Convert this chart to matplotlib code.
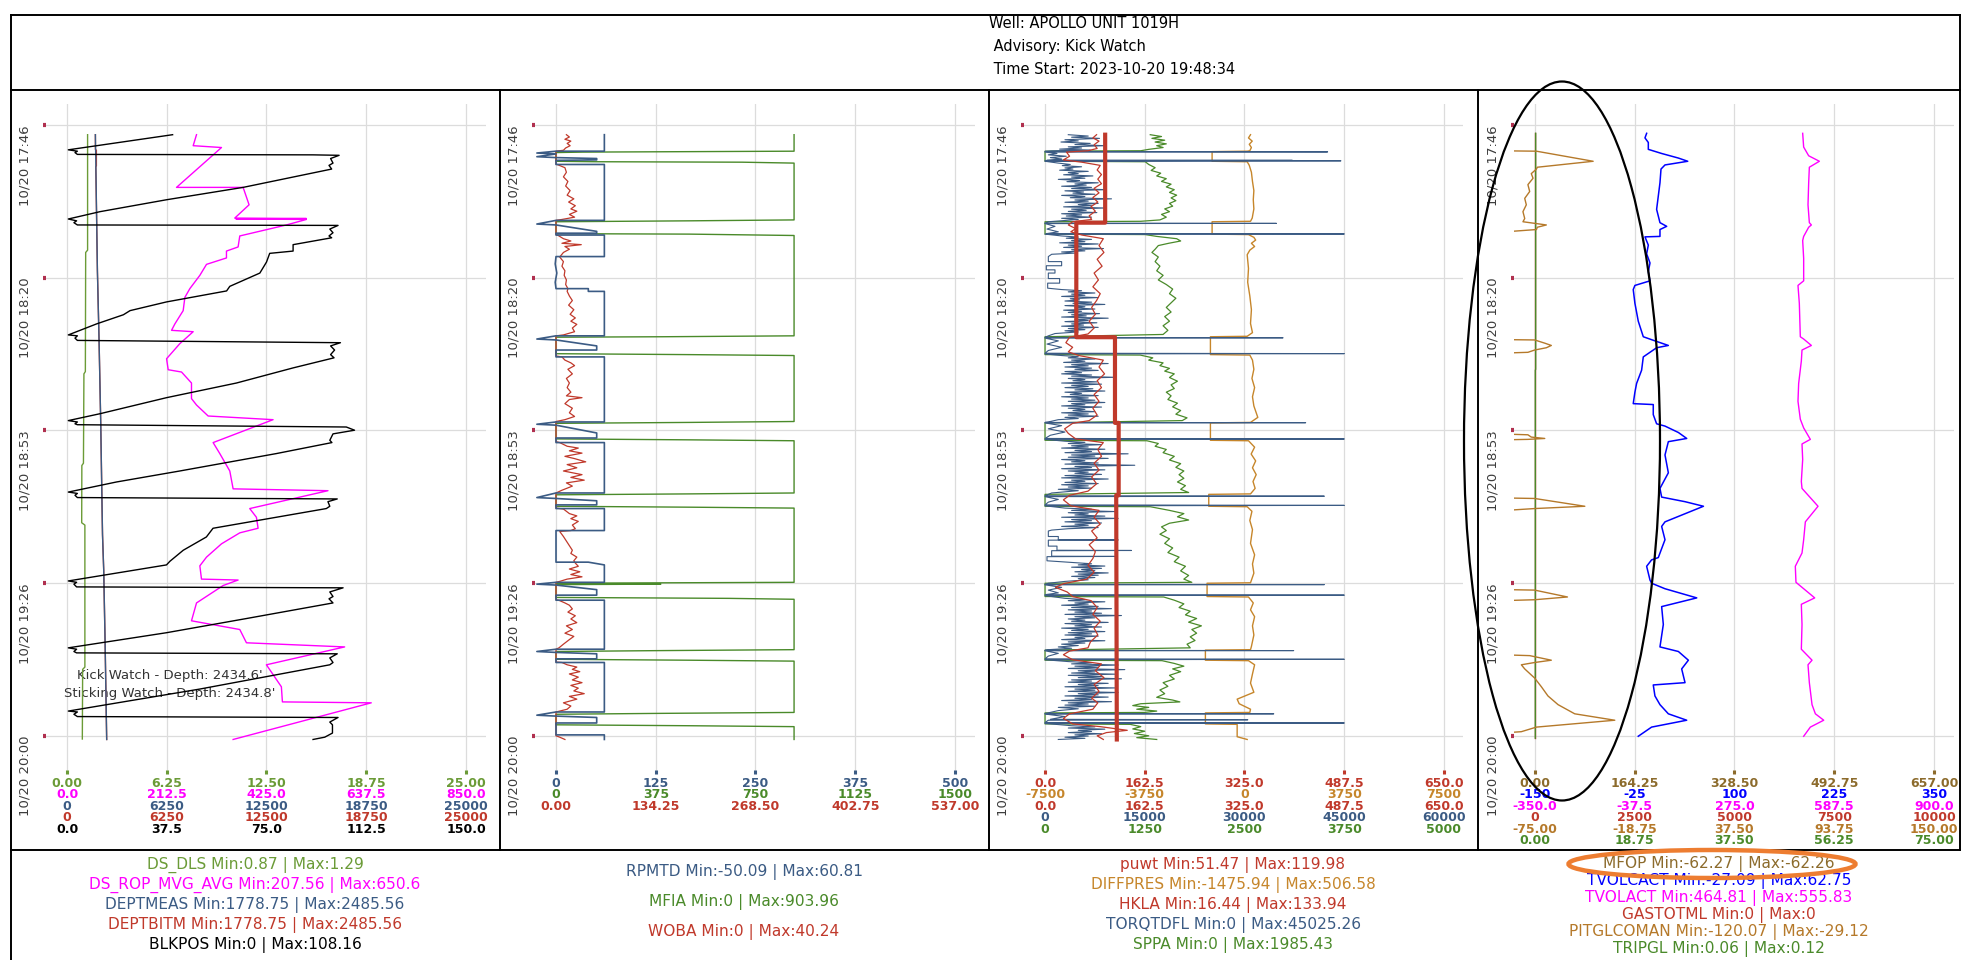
import matplotlib
matplotlib.use('Agg')
import matplotlib.pyplot as plt
import matplotlib.ticker as mticker
from matplotlib.patches import Ellipse
from matplotlib.lines import Line2D
import numpy as np

plt.rcParams['font.family'] = ['DejaVu Sans']
plt.rcParams['axes.unicode_minus'] = False

# colours
OLIVE = '#6b9b37'
MAGENTA = '#ff00ff'
SLATE = '#3b5b84'
BRICK = '#c0392b'
GREEN = '#4a8a2a'
OCHRE = '#c6862b'
BROWN = '#8c6b2c'
GOLD = '#b5792a'
BLUE = '#0000ff'

# time axis: minutes after 17:00 on 10/20
time_ticks = [46.67, 80.0, 113.33, 146.67, 180.0]
T_TOP, T_BOT = 42.1, 187.9

# ---------------- panel 1 : (value, minute) ----------------
ds_dls = [(1.29, 48.8), (1.29, 74.0), (1.17, 74.5), (1.15, 100.5), (1.06, 101.0), (1.03, 120.5),
          (0.93, 121.0), (0.92, 133.5), (1.12, 134.0), (1.12, 165.0), (0.98, 165.5), (0.96, 180.7)]

rop = [(275.9, 48.8), (268.8, 51.2), (329.1, 51.6), (233.3, 60.3), (375.2, 60.3), (387.9, 64.1),
       (357.4, 67.0), (509.9, 67.1), (360.0, 67.2), (509.9, 67.3), (467.4, 68.5), (368.1, 70.9),
       (364.5, 73.3), (339.7, 74.2), (339.7, 75.7), (297.2, 77.1), (283.0, 79.5), (261.7, 82.4),
       (251.1, 84.3), (247.5, 87.2), (229.8, 90.1), (222.7, 91.5), (268.8, 91.8), (240.4, 94.4),
       (212.1, 97.7), (215.6, 100.1), (244.0, 100.6), (265.2, 103.0), (265.2, 106.4), (275.9, 107.8),
       (300.7, 110.2), (439.0, 111.0), (311.3, 116.0), (325.5, 118.4), (346.8, 122.2), (353.9, 126.1),
       (556.0, 126.5), (389.3, 130.4), (403.5, 132.3), (407.1, 134.7), (368.1, 135.7), (329.1, 138.1),
       (297.2, 141.0), (283.0, 142.9), (286.5, 145.8), (364.5, 146.0), (332.6, 147.2), (275.9, 151.0),
       (265.2, 154.9), (368.1, 156.8), (382.3, 159.7), (591.5, 160.6), (424.8, 164.5), (456.7, 169.3),
       (458.9, 172.6), (648.2, 172.8), (353.9, 180.8)]

deptmeas = [(1779, 48.8), (1905, 78.5), (2010, 93.9), (2115, 112.1), (2180, 126.5), (2225, 136.1),
            (2300, 143.8), (2390, 160.2), (2486, 180.8)]

deptbitm = [(1779, 48.8), (1779, 52.0), (1840, 52.2), (1840, 55.6), (1805, 55.8), (1905, 78.5),
            (2010, 93.9), (2115, 112.1), (2180, 126.5), (2225, 136.1), (2300, 143.8), (2390, 160.2),
            (2486, 180.8)]

blkpos = [(39.7, 48.8), (0.5, 52.1), (3.9, 52.4), (3.0, 52.7), (3.9, 53.1), (92.5, 53.2), (102.3, 53.3),
          (99.1, 54.0), (100.0, 55.0), (98.5, 55.5), (99.5, 56.3),
          (66.2, 60.3), (37.4, 63.0), (12.4, 65.6), (0.5, 67.2),
          (3.6, 67.6), (2.6, 68.0), (3.9, 68.5), (101.9, 68.6), (98.8, 69.4), (100.0, 70.2), (98.5, 70.9), (99.5, 71.3),
          (85.0, 72.8), (85.0, 74.2), (76.2, 74.7), (75.0, 76.6), (72.5, 79.0), (61.2, 81.9), (60.0, 82.9),
          (37.4, 85.3), (23.7, 87.2), (21.2, 88.1), (11.1, 90.1), (0.5, 92.5),
          (3.9, 92.7), (3.0, 93.2), (3.9, 93.7), (102.8, 94.2), (99.1, 94.9), (100.6, 95.8), (99.1, 96.8), (100.4, 97.5),
          (85.0, 99.7), (63.7, 103.0), (37.4, 106.2), (12.4, 109.7), (0.5, 111.2),
          (3.9, 111.5), (3.0, 111.9), (3.9, 112.1), (105.0, 112.6), (108.1, 113.3), (100.0, 114.1), (98.8, 115.5), (99.6, 116.0),
          (78.7, 118.4), (42.4, 122.2), (18.6, 124.6), (0.5, 126.8),
          (3.9, 127.1), (3.0, 127.5), (3.9, 128.0), (101.6, 128.3), (98.1, 128.9), (98.8, 129.9), (97.5, 130.4),
          (54.9, 134.7), (52.4, 136.6), (43.7, 139.5), (38.7, 141.9), (37.4, 142.7), (0.5, 146.2),
          (3.6, 146.5), (2.6, 146.9), (3.6, 147.5), (103.8, 147.7), (98.8, 148.6), (100.0, 149.6), (98.5, 150.1), (100.0, 151.0),
          (67.5, 154.4), (37.4, 157.5), (0.5, 160.8),
          (3.6, 161.1), (2.6, 161.6), (3.6, 161.9), (101.6, 162.1), (98.8, 163.0), (100.0, 164.0), (98.8, 164.5),
          (49.9, 169.8), (0.5, 174.6),
          (3.9, 174.8), (2.6, 175.3), (3.9, 175.8), (101.9, 176.0), (98.8, 177.0), (99.8, 177.6), (99.8, 179.4),
          (96.9, 180.3), (92.5, 180.8)]

# ---------------- panel 2 ----------------
rpmtd = [(60.6, 48.8), (60.6, 52.4), (0, 52.4), (-24, 52.8), (0, 53.0), (-24, 53.6), (0, 53.8), (51, 54.0),
         (51, 54.3), (0, 54.4), (0, 55.3), (60.6, 55.3), (60.6, 67.5), (0, 67.5), (-24, 68.3), (0, 68.5),
         (51, 69.9), (51, 70.3), (0, 70.3), (0, 70.7), (60.6, 70.7), (60.6, 75.4), (0, 75.4), (-1, 77),
         (1, 79), (-1, 81), (0, 82.4), (40.5, 82.4), (40.5, 83.0), (60.6, 83.0), (60.6, 92.7), (0, 92.7),
         (-24, 93.4), (0, 93.6), (51, 94.9), (51, 95.8), (0, 95.8), (0, 97.3), (60.6, 97.3), (60.6, 111.5),
         (0, 111.5), (-24, 112.0), (0, 112.2), (51, 113.9), (51, 115.0), (0, 115.0), (0, 116.0), (60.6, 116.0),
         (60.6, 127.0), (0, 127.0), (-24, 128.0), (0, 128.2), (51, 128.7), (51, 129.6), (0, 129.6), (0, 130.4),
         (60.6, 130.4), (60.6, 135.2), (0, 135.2), (0, 142.1), (40.5, 142.1), (60.6, 142.7), (60.6, 146.5),
         (0, 146.5), (-24, 146.9), (0, 147.1), (51, 148.1), (51, 149.3), (0, 149.3), (0, 150.4), (60.6, 150.4),
         (60.6, 161.1), (0, 161.1), (-24, 161.6), (0, 161.8), (51, 162.1), (51, 163.2), (0, 163.2), (0, 164.0),
         (60.6, 164.0), (60.6, 174.8), (0, 174.8), (-24, 175.5), (0, 175.7), (51, 176.0), (51, 177.2),
         (0, 177.2), (0, 179.8), (60.6, 179.8), (60.6, 180.8)]

mfia = [(895, 48.8), (895, 52.4), (500, 52.5), (100, 52.6), (0, 52.7), (0, 54.6), (150, 54.7), (700, 54.8),
        (895, 55.0), (895, 67.4), (500, 67.6), (0, 67.8), (0, 70.4), (500, 70.5), (895, 70.8), (895, 92.7),
        (400, 92.9), (0, 93.0), (0, 96.6), (500, 96.8), (895, 97.0), (895, 111.4), (500, 111.6), (0, 111.8),
        (0, 115.2), (500, 115.4), (895, 115.6), (895, 127.0), (500, 127.2), (0, 127.4), (0, 129.9), (500, 130.1),
        (895, 130.3), (895, 146.5), (0, 146.7), (394, 146.9), (0, 147.0), (0, 149.8), (650, 150.0), (895, 150.2),
        (895, 161.2), (400, 161.4), (0, 161.6), (0, 163.3), (500, 163.5), (895, 163.7), (895, 174.9),
        (400, 175.1), (0, 175.3), (0, 177.6), (500, 177.8), (895, 178.0), (895, 180.8)]

woba = [(14, 48.8), (18, 49.3), (12, 49.8), (20, 50.2), (15, 50.7), (19, 51.2), (13, 51.7), (10, 52.2), (0, 52.4),
        (0, 55.2), (3, 55.4), (12, 56.0), (14, 57.0), (10, 58.0), (16, 59.0), (13, 60.0), (19, 61.0), (15, 62.0),
        (24, 62.8), (17, 63.5), (26, 64.3), (20, 65.0), (28, 65.5), (18, 66.2), (25, 66.8), (8, 67.3), (0, 67.5),
        (0, 70.6), (3, 70.8), (10, 71.5), (20, 72.0), (8, 72.5), (34, 72.8), (12, 73.2), (18, 73.8), (10, 74.5),
        (6, 75.3), (5, 75.5), (10, 76.5), (8, 77.5), (12, 78.5), (11, 79.5), (14, 80.5), (13, 81.5), (16, 82.4),
        (15, 83.0), (18, 84.0), (22, 85.0), (17, 86.0), (24, 87.0), (19, 88.0), (26, 88.8), (20, 89.5),
        (28, 90.2), (22, 91.0), (25, 91.8), (10, 92.5), (0, 92.7),
        (0, 97.1), (8, 97.3), (12, 98.0), (20, 98.6), (25, 99.2), (16, 100.0), (22, 101.0), (14, 102.0),
        (18, 103.0), (15, 104.0), (20, 105.0), (14, 105.8), (35, 106.2), (18, 106.6), (12, 107.5), (22, 108.5),
        (18, 109.5), (25, 110.3), (12, 111.0), (0, 111.4),
        (0, 115.8), (5, 116.0), (15, 116.8), (30, 117.2), (18, 117.8), (35, 118.3), (12, 119.0), (25, 119.5),
        (40, 120.2), (15, 120.8), (28, 121.5), (10, 122.2), (35, 123.0), (20, 123.6), (38, 124.2), (14, 124.8),
        (22, 125.5), (8, 126.4), (0, 127.0),
        (0, 130.3), (10, 130.5), (18, 131.5), (28, 132.0), (20, 132.6), (30, 133.2), (22, 134.0), (26, 134.8),
        (20, 135.2), (5, 135.4), (10, 136.5), (14, 137.5), (18, 138.5), (22, 139.5), (20, 140.2), (28, 141.0),
        (24, 141.8), (26, 142.3), (30, 143.0), (18, 143.6), (32, 144.2), (20, 144.8), (35, 145.3), (15, 145.8),
        (5, 146.3), (0, 146.5),
        (0, 150.3), (5, 150.5), (12, 151.0), (18, 151.5), (22, 152.3), (16, 153.0), (26, 153.8), (20, 154.5),
        (28, 155.3), (14, 156.0), (22, 156.8), (12, 157.6), (24, 158.3), (18, 159.0), (10, 160.0), (4, 160.8),
        (0, 161.1),
        (0, 163.9), (8, 164.0), (15, 164.5), (28, 165.0), (22, 165.5), (32, 166.0), (18, 166.5), (30, 167.2),
        (22, 167.8), (35, 168.4), (20, 169.0), (30, 169.6), (24, 170.2), (38, 170.8), (18, 171.4), (28, 172.0),
        (10, 172.8), (20, 173.5), (15, 174.2), (0, 174.8),
        (0, 180.0), (5, 180.3), (12, 180.8)]

# ---------------- panel 3 ----------------
puwt = [(98, 48.8), (98, 68.0), (51, 68.0), (51, 93.0), (114, 93.0), (114, 111.7), (120, 111.7),
        (120, 127.5), (116, 127.5), (117, 180.8)]

diffpres = [(226, 48.8), (150, 49.5), (290, 50.2), (180, 50.9), (260, 51.6), (200, 52.3), (101, 52.4),
            (-1218, 52.5), (-1218, 54.6), (101, 54.7), (180, 55.5), (260, 57), (300, 59), (352, 61), (330, 63),
            (352, 65), (290, 67), (226, 67.7), (-1218, 67.8), (-1218, 70.5), (150, 70.6), (352, 71.2),
            (420, 71.8), (260, 72.5), (380, 73.2), (200, 74), (101, 75), (150, 78), (120, 81), (200, 84),
            (260, 87), (226, 90), (300, 92), (101, 92.8), (-1281, 92.9), (-1281, 96.8), (200, 96.9), (300, 98),
            (352, 100), (280, 102), (380, 104), (300, 106), (352, 108), (500, 110.5), (226, 111.6),
            (-1281, 111.7), (-1281, 115.5), (150, 115.6), (380, 117), (250, 118.5), (420, 120), (300, 121.5),
            (440, 123), (320, 124.5), (400, 126), (226, 127.2), (-1344, 127.3), (-1344, 129.9), (101, 130),
            (280, 131), (200, 133), (300, 135), (226, 138), (380, 140.5), (300, 142.5), (352, 144.5),
            (226, 146.6), (-1407, 146.7), (-1407, 149.6), (150, 149.7), (330, 151), (226, 152.5), (380, 154),
            (300, 156), (352, 158), (260, 160.5), (226, 161.2), (-1470, 161.3), (-1470, 163.5), (150, 163.6),
            (380, 164.5), (300, 166.5), (226, 168.5), (352, 170.5), (-276, 172.0), (-200, 173), (226, 174.2),
            (200, 174.9), (-1470, 175.0), (-1470, 177.4), (-276, 177.5), (-276, 180.2), (101, 180.8)]

hkla = [(84, 48.8), (78, 49.5), (88, 50.2), (80, 51), (85, 51.8), (70, 52.3), (35, 52.6), (40, 53.5), (30, 54.3),
        (60, 54.8), (90, 55.5), (85, 56.5), (92, 57.5), (86, 58.5), (92, 59.5), (80, 60.5), (88, 61.5),
        (78, 62.5), (86, 63.5), (75, 64.5), (82, 65.5), (72, 66.5), (76, 67.3), (45, 67.8), (38, 68.5),
        (50, 69.3), (42, 70), (60, 70.7), (95, 71.5), (88, 73), (96, 74.5), (85, 76), (93, 77.5), (80, 79),
        (87, 80.5), (78, 82), (90, 83.5), (84, 85), (76, 86.5), (82, 88), (72, 89.5), (80, 91), (70, 92.3),
        (40, 93), (34, 94.2), (45, 95.2), (38, 96.2), (55, 97), (95, 98), (88, 99.5), (97, 101), (85, 102.5),
        (92, 104), (80, 105.5), (88, 107), (78, 108.5), (85, 110), (72, 111.2), (45, 111.8), (32, 113),
        (38, 114), (50, 115.2), (95, 116), (86, 117.5), (92, 119), (80, 120.5), (88, 122), (76, 123.5),
        (84, 125), (70, 126.6), (40, 127.5), (30, 128.5), (42, 129.8), (88, 130.8), (80, 132.3), (90, 133.8),
        (76, 135.3), (85, 136.8), (72, 138.3), (82, 139.8), (78, 141.3), (70, 142.8), (80, 144.3), (68, 145.8),
        (30, 146.8), (17, 147.6), (36, 148.6), (45, 149.6), (75, 150.5), (85, 152), (78, 153.5), (90, 155),
        (80, 156.5), (86, 158), (74, 159.5), (70, 160.8), (40, 161.5), (30, 162.3), (45, 163.4), (92, 164.3),
        (82, 165.8), (96, 167.3), (80, 168.8), (88, 170.3), (76, 171.8), (86, 172.8), (78, 174.2), (40, 175.2),
        (30, 176.2), (45, 177.4), (90, 178), (134, 178.8), (100, 179.3), (85, 180), (95, 180.8)]

# torque in thousands
torq_k = [(3.5, 48.8), (6.5, 49.1), (4.0, 49.35), (8.2, 49.6), (3.0, 49.9), (5.0, 50.15), (2.4, 50.4),
          (6.8, 50.7), (4.5, 50.95), (9.0, 51.2), (3.5, 51.45), (5.5, 51.7), (2.2, 51.95), (6.8, 52.15),
          (1.0, 52.35),
          (0, 52.45), (42.5, 52.55), (0, 52.6), (1.8, 52.9), (0.5, 53.2), (3.2, 53.5), (0.8, 53.8), (2.5, 54.1),
          (0.3, 54.35), (37.2, 54.4), (0, 54.45), (44.5, 54.5), (0, 54.6),
          (2.0, 55.0), (3.8, 55.3), (2.6, 55.55), (5.5, 55.8), (3.0, 56.05), (4.2, 56.3), (2.2, 56.55), (6.5, 56.8),
          (3.5, 57.05), (5.0, 57.3), (2.8, 57.55), (7.2, 57.8), (4.0, 58.05), (6.0, 58.3), (2.0, 58.55),
          (5.2, 58.8), (3.3, 59.05), (8.0, 59.3), (4.5, 59.55), (6.2, 59.8), (2.5, 60.05), (7.0, 60.3),
          (4.0, 60.55), (9.2, 60.8), (3.0, 61.05), (5.8, 61.3), (4.2, 61.55), (7.5, 61.8), (2.5, 62.05),
          (6.0, 62.3), (3.8, 62.55), (10.0, 62.8), (4.5, 63.05), (6.5, 63.3), (3.0, 63.55), (8.0, 63.8),
          (5.0, 64.05), (7.0, 64.3), (2.8, 64.55), (9.0, 64.8), (4.0, 65.05), (6.2, 65.3), (3.5, 65.55),
          (7.8, 65.8), (2.5, 66.05), (5.5, 66.3), (3.2, 66.55), (7.0, 66.8), (2.5, 67.05), (5.0, 67.3),
          (0.5, 67.8),
          (0, 68.1), (34.8, 68.16), (0, 68.2), (1.5, 68.8), (0.3, 69.4), (2.0, 70.0), (0.2, 70.4), (45.0, 70.46),
          (0, 70.5),
          (2.5, 70.9), (5.0, 71.15), (3.2, 71.4), (7.0, 71.65), (4.0, 71.9), (6.0, 72.15), (2.2, 72.4),
          (8.0, 72.65), (3.5, 72.9), (5.5, 73.15), (2.8, 73.4), (8.8, 73.65), (4.0, 73.9), (6.0, 74.15),
          (2.5, 74.4), (4.5, 74.65), (1.0, 74.9), (0.5, 75.4), (0.5, 76.5), (2.5, 76.5), (2.5, 77.4), (0.2, 77.4),
          (0.2, 78.3), (1.5, 78.3), (1.5, 79.0), (0.5, 79.0), (0.5, 80.2), (2.2, 80.2), (2.2, 81.2), (0.4, 81.2),
          (0.4, 82.3),
          (2.5, 82.6), (5.5, 82.85), (3.5, 83.1), (7.5, 83.35), (4.0, 83.6), (6.0, 83.85), (2.5, 84.1),
          (8.0, 84.35), (3.8, 84.6), (5.2, 84.85), (3.0, 85.1), (7.0, 85.35), (4.2, 85.6), (9.0, 85.85),
          (3.0, 86.1), (6.0, 86.35), (4.5, 86.6), (7.5, 86.85), (2.8, 87.1), (5.5, 87.35), (3.5, 87.6),
          (8.2, 87.85), (4.0, 88.1), (6.2, 88.35), (2.5, 88.6), (9.5, 88.85), (4.5, 89.1), (6.5, 89.35),
          (3.0, 89.6), (7.8, 89.85), (4.0, 90.1), (5.8, 90.35), (2.5, 90.6), (8.0, 90.85), (3.5, 91.1),
          (6.0, 91.35), (3.0, 91.6), (5.0, 91.85), (1.5, 92.2), (0.5, 92.7),
          (0, 93.05), (35.8, 93.13), (0, 93.2), (2.0, 93.8), (0.3, 94.5), (2.5, 95.2), (0.5, 95.9), (0, 96.5),
          (45.0, 96.58), (0, 96.65),
          (2.5, 97.0), (5.0, 97.25), (3.5, 97.5), (7.5, 97.75), (4.0, 98.0), (6.0, 98.25), (2.8, 98.5),
          (9.5, 98.75), (4.0, 99.0), (6.5, 99.25), (3.0, 99.5), (7.0, 99.75), (4.5, 100.0), (8.0, 100.25),
          (3.0, 100.5), (5.5, 100.75), (2.5, 101.0), (7.0, 101.25), (4.0, 101.5), (10.5, 101.75), (3.5, 102.0),
          (6.0, 102.25), (4.2, 102.5), (7.8, 102.75), (2.5, 103.0), (8.5, 103.25), (4.0, 103.5), (6.5, 103.75),
          (3.0, 104.0), (7.2, 104.25), (4.5, 104.5), (9.0, 104.75), (3.0, 105.0), (5.5, 105.25), (3.8, 105.5),
          (8.0, 105.75), (2.5, 106.0), (6.5, 106.25), (4.0, 106.5), (7.5, 106.75), (3.5, 107.0), (9.0, 107.25),
          (4.0, 107.5), (6.0, 107.75), (2.5, 108.0), (8.5, 108.25), (3.5, 108.5), (6.0, 108.75), (4.2, 109.0),
          (7.5, 109.25), (2.5, 109.5), (6.5, 109.75), (3.5, 110.0), (8.0, 110.25), (3.0, 110.5), (5.0, 110.75),
          (2.0, 111.0), (0.5, 111.5),
          (0, 111.6), (39.2, 111.66), (0, 111.72), (2.5, 112.3), (0.5, 113.0), (3.0, 113.7), (0.8, 114.4),
          (0, 115.1), (45.0, 115.21), (0, 115.3),
          (3.0, 115.7), (6.0, 115.95), (3.5, 116.2), (8.5, 116.45), (4.0, 116.7), (6.5, 116.95), (2.5, 117.2),
          (9.0, 117.45), (4.5, 117.7), (7.0, 117.95), (3.0, 118.2), (12.5, 118.45), (4.0, 118.7), (7.5, 118.95),
          (3.5, 119.2), (9.5, 119.45), (2.5, 119.7), (6.0, 119.95), (4.0, 120.2), (8.0, 120.45), (3.0, 120.7),
          (13.5, 120.95), (4.5, 121.2), (7.0, 121.45), (2.5, 121.7), (9.0, 121.95), (3.5, 122.2), (6.5, 122.45),
          (4.5, 122.7), (8.5, 122.95), (3.0, 123.2), (7.0, 123.45), (2.5, 123.7), (9.5, 123.95), (4.0, 124.2),
          (6.0, 124.45), (3.0, 124.7), (8.0, 124.95), (2.5, 125.2), (6.5, 125.45), (3.5, 125.7), (7.0, 125.95),
          (2.0, 126.2), (5.0, 126.5), (1.0, 127.0),
          (0, 127.6), (42.0, 127.7), (0, 127.8), (2.0, 128.4), (0.5, 129.0), (0, 129.6), (45.0, 129.71), (0, 129.8),
          (3.0, 130.3), (7.0, 130.55), (4.0, 130.8), (10.5, 131.05), (3.5, 131.3), (6.5, 131.55), (4.5, 131.8),
          (9.0, 132.05), (2.5, 132.3), (11.0, 132.55), (4.0, 132.8), (7.0, 133.05), (3.0, 133.3), (8.5, 133.55),
          (4.5, 133.8), (6.5, 134.05), (2.5, 134.3), (8.0, 134.55), (3.5, 134.8), (1.0, 135.1), (0.5, 135.3),
          (0.5, 136.5), (2.0, 136.5), (2.0, 137.2), (11.0, 137.25), (0.5, 137.3), (0.5, 138.6), (1.8, 138.6),
          (1.8, 139.5), (13.0, 139.55), (1.0, 139.6), (1.0, 140.8), (10.5, 140.85), (0.3, 140.9), (0.3, 141.8),
          (4.5, 142.2), (7.0, 142.45), (5.0, 142.7), (9.0, 142.95), (4.0, 143.2), (8.5, 143.45), (5.5, 143.7),
          (7.5, 143.95), (4.5, 144.2), (9.5, 144.45), (5.0, 144.7), (8.0, 144.95), (4.0, 145.2), (7.5, 145.45),
          (5.0, 145.7), (6.5, 145.95), (3.0, 146.3), (0.5, 146.7),
          (0, 146.95), (42.0, 147.0), (0, 147.05), (2.5, 147.6), (0.5, 148.2), (2.0, 148.8), (0, 149.2),
          (45.0, 149.3), (0, 149.4),
          (3.0, 150.0), (6.0, 150.25), (3.5, 150.5), (9.0, 150.75), (4.5, 151.0), (6.5, 151.25), (2.5, 151.5),
          (8.0, 151.75), (4.0, 152.0), (10.0, 152.25), (3.5, 152.5), (7.0, 152.75), (4.5, 153.0), (8.5, 153.25),
          (3.0, 153.5), (11.5, 153.75), (4.5, 154.0), (7.5, 154.25), (3.5, 154.5), (6.0, 154.75), (4.0, 155.0),
          (9.5, 155.25), (3.0, 155.5), (7.0, 155.75), (4.5, 156.0), (8.5, 156.25), (2.5, 156.5), (6.5, 156.75),
          (4.0, 157.0), (9.0, 157.25), (3.5, 157.5), (7.0, 157.75), (3.0, 158.0), (8.0, 158.25), (4.5, 158.5),
          (6.0, 158.75), (2.5, 159.0), (9.0, 159.25), (3.5, 159.5), (6.0, 159.75), (2.5, 160.0), (5.0, 160.3),
          (2.0, 160.6), (4.0, 160.9), (0.5, 161.2),
          (0, 161.35), (37.4, 161.4), (0, 161.45), (2.0, 162.0), (0.5, 162.6), (0, 163.2), (45.0, 163.3), (0, 163.4),
          (3.5, 163.8), (7.0, 164.05), (4.0, 164.3), (11.0, 164.55), (4.5, 164.8), (8.0, 165.05), (3.5, 165.3),
          (12.0, 165.55), (5.0, 165.8), (7.5, 166.05), (4.0, 166.3), (10.5, 166.55), (3.5, 166.8), (8.5, 167.05),
          (5.0, 167.3), (11.5, 167.55), (4.0, 167.8), (7.0, 168.05), (3.5, 168.3), (9.5, 168.55), (5.0, 168.8),
          (8.0, 169.05), (3.0, 169.3), (10.5, 169.55), (4.5, 169.8), (7.5, 170.05), (3.5, 170.3), (11.0, 170.55),
          (5.0, 170.8), (8.0, 171.05), (3.0, 171.3), (9.5, 171.55), (4.5, 171.8), (7.0, 172.05), (2.5, 172.3),
          (10.0, 172.55), (3.5, 172.8), (6.5, 173.05), (3.0, 173.3), (7.5, 173.55), (2.0, 173.8), (5.0, 174.1),
          (2.0, 174.5), (0.5, 175.0),
          (0, 175.15), (34.4, 175.2), (0, 175.25), (3.0, 175.8), (0.8, 176.4), (30.5, 176.5), (0.5, 176.6),
          (0, 177.1), (45.0, 177.2), (0, 177.3),
          (4.0, 177.8), (7.5, 178.05), (3.5, 178.3), (9.0, 178.55), (5.0, 178.8), (7.0, 179.05), (3.5, 179.3),
          (8.5, 179.55), (4.5, 179.8), (6.5, 180.05), (3.0, 180.3), (6.0, 180.55), (2.0, 180.8)]

sppa = [(1319, 48.8), (1460, 49.2), (1340, 49.6), (1500, 50.0), (1380, 50.4), (1520, 50.8), (1400, 51.2),
        (1480, 51.6), (1300, 52.0), (1200, 52.3), (0, 52.4), (0, 54.6), (1256, 54.7),
        (1300, 55.3), (1380, 56.0), (1330, 56.6), (1450, 57.2), (1400, 57.8), (1520, 58.4), (1460, 59.0),
        (1580, 59.6), (1520, 60.2), (1620, 60.8), (1560, 61.4), (1650, 62.0), (1580, 62.6), (1640, 63.2),
        (1560, 63.8), (1600, 64.4), (1500, 65.0), (1560, 65.6), (1460, 66.2), (1520, 66.8), (1440, 67.4),
        (1200, 67.7), (0, 67.8), (0, 70.5), (1256, 70.6),
        (1400, 71.0), (1650, 71.5), (1700, 72.0), (1550, 72.5), (1420, 73.0), (1380, 73.8), (1340, 74.5),
        (1420, 75.5), (1380, 76.5), (1440, 77.5), (1400, 78.5), (1480, 79.5), (1420, 80.5), (1520, 81.5),
        (1600, 82.5), (1560, 83.5), (1640, 84.5), (1580, 85.5), (1520, 86.5), (1580, 87.5), (1500, 88.5),
        (1560, 89.5), (1480, 90.5), (1540, 91.5), (1480, 92.4), (0, 92.9),
        (0, 96.8), (1193, 96.9), (1350, 97.5), (1300, 98.0), (1480, 98.6), (1440, 99.2), (1560, 99.8),
        (1500, 100.4), (1620, 101.0), (1560, 101.8), (1660, 102.6), (1580, 103.4), (1620, 104.2), (1520, 105.0),
        (1580, 105.8), (1540, 106.6), (1660, 107.4), (1600, 108.2), (1700, 109.0), (1640, 109.8), (1780, 110.6),
        (1720, 111.2), (0, 111.7),
        (0, 115.5), (1277, 115.6), (1420, 116.2), (1380, 116.8), (1520, 117.5), (1480, 118.2), (1620, 119.0),
        (1560, 119.8), (1700, 120.6), (1640, 121.4), (1740, 122.2), (1680, 123.0), (1740, 123.8), (1660, 124.6),
        (1760, 125.4), (1700, 126.2), (1800, 126.9), (0, 127.3),
        (0, 129.9), (1319, 130.0), (1560, 130.8), (1740, 131.5), (1660, 132.2), (1800, 132.9), (1560, 133.6),
        (1460, 134.4), (1520, 135.2), (1440, 136.0), (1560, 137.0), (1500, 138.0), (1600, 139.0), (1540, 140.0),
        (1680, 141.0), (1620, 142.0), (1760, 143.0), (1700, 144.0), (1800, 145.0), (1740, 145.8), (1840, 146.5),
        (0, 146.7),
        (0, 149.6), (1487, 149.7), (1620, 150.4), (1740, 151.2), (1680, 152.0), (1820, 152.8), (1760, 153.6),
        (1900, 154.4), (1800, 155.2), (1960, 156.0), (1840, 156.8), (1900, 157.6), (1820, 158.4), (1880, 159.2),
        (1780, 160.0), (1820, 160.8), (0, 161.3),
        (0, 163.5), (1466, 163.6), (1620, 164.2), (1740, 164.8), (1600, 165.4), (1700, 166.0), (1560, 166.8),
        (1620, 167.6), (1480, 168.4), (1540, 169.2), (1440, 170.0), (1500, 170.8), (1400, 171.6), (1600, 172.2),
        (1690, 172.6), (1200, 173.0), (1100, 173.4), (1300, 173.8), (1150, 174.2), (1400, 174.6), (1250, 174.9),
        (0, 175.0),
        (0, 177.4), (1068, 177.5), (1200, 178.0), (1100, 178.5), (1250, 179.0), (1120, 179.5), (1300, 180.0),
        (1150, 180.4), (1400, 180.8)]

# ---------------- panel 4 ----------------
mfop = [(-62.27, 48.5), (-62.26, 180.5)]

tvolcact = [(-10.1, 48.5), (-12.2, 49.5), (-8.0, 50.5), (-8.0, 52.0), (8.7, 52.9), (29.7, 53.9), (41.4, 54.6),
            (12.9, 55.4), (7.9, 56.3), (6.6, 59.3), (4.5, 62.2), (2.4, 65.1), (6.6, 68.0), (15.0, 68.8),
            (6.6, 69.5), (6.6, 71.0), (-12.2, 71.1), (-8.0, 72.9), (-10.1, 74.8), (-5.9, 76.8), (-8.0, 78.7),
            (-5.9, 80.7), (-24.8, 81.7), (-26.9, 82.6), (-24.8, 85.6), (-20.6, 89.5), (-14.3, 92.9), (0.3, 93.8),
            (17.1, 94.8), (2.4, 95.3), (-14.3, 97.3), (-16.4, 100.2), (-22.7, 103.1), (-24.8, 105.0),
            (-26.9, 107.5), (-1.8, 107.7), (-1.8, 109.9), (2.4, 111.9), (12.9, 112.4), (29.7, 113.8),
            (40.1, 115.1), (17.1, 115.8), (12.9, 118.7), (17.1, 122.6), (6.6, 126.0), (8.7, 127.9), (38.0, 128.9),
            (61.1, 129.9), (12.9, 133.3), (8.7, 134.3), (12.9, 137.2), (4.5, 141.1), (-3.9, 141.6), (-10.1, 143.0),
            (-5.9, 146.0), (-3.9, 146.7), (12.9, 147.9), (52.7, 149.9), (8.7, 151.8), (10.8, 155.7), (6.6, 160.6),
            (29.7, 161.6), (42.2, 163.5), (33.8, 165.4), (38.0, 168.4), (-1.8, 168.9), (0.3, 171.3), (6.6, 173.2),
            (17.1, 175.2), (40.1, 176.6), (-3.9, 178.1), (-20.6, 180.1)]

tvolact = [(488.6, 48.5), (491.7, 51.5), (507.4, 53.4), (540.9, 54.6), (509.5, 55.9), (507.4, 59.3),
           (505.3, 64.1), (509.5, 68.0), (515.8, 68.5), (507.4, 69.0), (491.7, 71.0), (488.6, 71.9),
           (491.7, 75.8), (491.7, 80.7), (473.9, 81.7), (478.1, 85.6), (481.2, 92.9), (491.7, 93.4),
           (515.8, 94.8), (486.5, 95.8), (484.4, 98.2), (476.0, 103.1), (473.9, 107.0), (481.2, 110.9),
           (491.7, 112.8), (512.6, 115.3), (486.5, 116.3), (488.6, 119.7), (484.4, 124.5), (486.5, 126.0),
           (536.7, 129.9), (497.0, 133.3), (491.7, 137.2), (486.5, 140.1), (465.5, 143.0), (467.6, 146.5),
           (526.3, 149.9), (484.4, 151.3), (486.5, 155.7), (484.4, 161.1), (517.9, 163.5), (505.3, 164.5),
           (509.5, 168.4), (517.9, 173.2), (528.4, 175.2), (554.5, 176.6), (512.6, 178.1), (491.7, 180.1)]

gastotml = [(0, 48.5), (0, 180.5)]

pitglcoman = [(-120, 48.5), (-120, 52.2), (-74.2, 52.4), (-42.2, 54.6), (-73.7, 55.9), (-74.2, 56.3),
              (-77.1, 57.3), (-76.1, 58.3), (-79.0, 59.7), (-78.0, 61.2), (-80.8, 62.7), (-79.9, 64.1),
              (-81.8, 65.6), (-80.8, 67.1), (-81.8, 67.8), (-74.2, 68.2), (-68.6, 68.5), (-73.7, 69.0),
              (-74.2, 69.5), (-120, 70.8), (-120, 93.4), (-75.2, 93.6), (-69.5, 94.3), (-65.8, 94.8),
              (-68.6, 95.3), (-75.2, 95.8), (-79.0, 96.3), (-120, 96.8), (-120, 113.8), (-79.0, 114.3),
              (-77.1, 114.8), (-69.5, 115.1), (-79.0, 115.3), (-120, 115.6), (-120, 127.9), (-75.2, 128.2),
              (-46.9, 129.9), (-75.2, 130.4), (-120, 131.5), (-120, 147.9), (-75.2, 148.2), (-56.7, 149.7),
              (-75.2, 150.3), (-120, 150.8), (-120, 162.0), (-78.0, 162.5), (-65.8, 163.5), (-75.2, 164.0),
              (-82.7, 164.5), (-80.8, 165.4), (-75.2, 167.4), (-71.4, 169.3), (-67.7, 171.3), (-62.0, 173.2),
              (-52.6, 175.2), (-30.0, 176.6), (-74.2, 178.1), (-82.7, 179.1), (-120, 180.1)]

tripgl = [(0.12, 48.5), (0.12, 100.0), (0.06, 100.2), (0.06, 180.5)]

# legends (name, min, max) as printed
names_1 = ['DS_DLS', 'DS_ROP_MVG_AVG', 'DEPTMEAS', 'DEPTBITM', 'BLKPOS']
mins_1 = ['0.87', '207.56', '1778.75', '1778.75', '0']
maxs_1 = ['1.29', '650.6', '2485.56', '2485.56', '108.16']
names_2 = ['RPMTD', 'MFIA', 'WOBA']
mins_2 = ['-50.09', '0', '0']
maxs_2 = ['60.81', '903.96', '40.24']
names_3 = ['puwt', 'DIFFPRES', 'HKLA', 'TORQTDFL', 'SPPA']
mins_3 = ['51.47', '-1475.94', '16.44', '0', '0']
maxs_3 = ['119.98', '506.58', '133.94', '45025.26', '1985.43']
names_4 = ['MFOP', 'TVOLCACT', 'TVOLACT', 'GASTOTML', 'PITGLCOMAN', 'TRIPGL']
mins_4 = ['-62.27', '-27.09', '464.81', '0', '-120.07', '0.06']
maxs_4 = ['-62.26', '62.75', '555.83', '0', '-29.12', '0.12']

# series spec: (data, colour, scale lo, scale hi, tick format, line width)
panels = [
    (67, names_1, mins_1, maxs_1, [
        (ds_dls, OLIVE, 0, 25, '%.2f', 1.0),
        (rop, MAGENTA, 0, 850, '%.1f', 1.0),
        (deptmeas, SLATE, 0, 25000, '%d', 1.0),
        (deptbitm, BRICK, 0, 25000, '%d', 1.0),
        (blkpos, 'black', 0, 150, '%.1f', 1.0)], [3, 2, 0, 1, 4]),
    (556, names_2, mins_2, maxs_2, [
        (rpmtd, SLATE, 0, 500, '%d', 1.2),
        (mfia, GREEN, 0, 1500, '%d', 1.0),
        (woba, BRICK, 0, 537, '%.2f', 0.9)], [1, 2, 0]),
    (1045, names_3, mins_3, maxs_3, [
        (puwt, BRICK, 0, 650, '%.1f', 3.0),
        (diffpres, OCHRE, -7500, 7500, '%d', 1.0),
        (hkla, BRICK, 0, 650, '%.1f', 0.9),
        ([(v * 1000, t) for v, t in torq_k], SLATE, 0, 60000, '%d', 0.8),
        (sppa, GREEN, 0, 5000, '%d', 0.9)], [4, 1, 3, 2, 0]),
    (1535, names_4, mins_4, maxs_4, [
        (mfop, BROWN, 0, 657, '%.2f', 1.0),
        (tvolcact, BLUE, -150, 350, '%d', 1.1),
        (tvolact, MAGENTA, -350, 900, '%.1f', 1.0),
        (gastotml, BRICK, 0, 10000, '%d', 1.0),
        (pitglcoman, GOLD, -75, 150, '%.2f', 1.0),
        (tripgl, GREEN, 0, 75, '%.2f', 1.0)], [3, 5, 0, 4, 1, 2]),
]
legend_rows = [[865, 885, 905, 925, 945], [872, 902, 932], [865, 885, 905, 925, 945],
               [864, 881, 898, 915, 932, 949]]
legend_cx = [255, 744, 1233, 1719]

W, H = 1962, 960
ROW = 8.3  # points between stacked scale rows


def fx(px):
    return px / W


def fy(py):
    return 1 - py / H


def hhmm(m):
    m = int(m)
    return '10/20 %d:%02d' % (17 + m // 60, m % 60)


fig = plt.figure(figsize=(19.62, 9.6), dpi=100)

for (x0, names, mins, maxs, series, order), ly, cx in zip(panels, legend_rows, legend_cx):
    ax = fig.add_axes([fx(x0 - 21.5), fy(772), 440 / W, 668 / H])
    _, c0, lo, hi, fmt, _ = series[0]
    ax.set_xlim(lo - 0.0539 * (hi - lo), hi + 0.0489 * (hi - lo))
    ax.set_ylim(T_BOT, T_TOP)
    ax.set_xticks(np.linspace(lo, hi, 5))
    ax.xaxis.set_major_formatter(mticker.FormatStrFormatter(fmt))
    ax.set_yticks(time_ticks)
    ax.set_yticklabels([hhmm(t) for t in time_ticks], rotation=90, va='top')
    ax.grid(True, color='#dcdcdc', lw=0.9)
    ax.set_axisbelow(True)
    for sp in ax.spines.values():
        sp.set_visible(False)
    ax.tick_params(axis='x', direction='inout', length=3, width=2.2, color=c0,
                   labelcolor=c0, pad=2, labelsize=9)
    ax.tick_params(axis='y', length=2, width=3, color='#b0304f', labelcolor='#3c3c3c',
                   pad=8, labelsize=9.5)
    plt.setp(ax.get_xticklabels(), fontweight='bold')

    for k, (data, col, lo, hi, fmt, lw) in enumerate(series):
        tw = ax.twiny()
        tw.set_zorder(1 + order.index(k))
        tw.set_xlim(lo - 0.0539 * (hi - lo), hi + 0.0489 * (hi - lo))
        for sp in tw.spines.values():
            sp.set_visible(False)
        if k == 0:
            tw.set_xticks([])
        else:
            tw.xaxis.set_ticks_position('bottom')
            tw.spines['bottom'].set_position(('outward', k * ROW))
            tw.set_xticks(np.linspace(lo, hi, 5))
            tw.xaxis.set_major_formatter(mticker.FormatStrFormatter(fmt))
            tw.tick_params(axis='x', length=0, pad=3.5, labelsize=9, labelcolor=col)
            plt.setp(tw.get_xticklabels(), fontweight='bold')
        v, t = zip(*data)
        tw.plot(v, t, color=col, lw=lw)

    for (data, col, *_), nm, mn, mx, y in zip(series, names, mins, maxs, ly):
        fig.text(fx(cx), fy(y), '%s Min:%s | Max:%s' % (nm, mn, mx), color=col,
                 ha='center', va='center', fontsize=11.1)

    if x0 == 67:
        ax.text(0.072, 0.144, "Kick Watch - Depth: 2434.6'", transform=ax.transAxes,
                fontsize=9.5, color='#333333', va='center', zorder=20)
        ax.text(0.042, 0.117, "Sticking Watch - Depth: 2434.8'", transform=ax.transAxes,
                fontsize=9.5, color='#333333', va='center', zorder=20)


# frame lines
def hline(y, x1=11, x2=1960):
    fig.add_artist(Line2D([fx(x1), fx(x2)], [fy(y), fy(y)], transform=fig.transFigure, color='black', lw=1.4))


def vline(x, y1, y2):
    fig.add_artist(Line2D([fx(x), fx(x)], [fy(y1), fy(y2)], transform=fig.transFigure, color='black', lw=1.4))


hline(15)
hline(90)
hline(850)
vline(11, 15, 960)
vline(1960, 15, 850)
for xd in [500, 989, 1478]:
    vline(xd, 90, 850)

fig.text(fx(989), fy(24), 'Well: APOLLO UNIT 1019H', fontsize=10.5, va='center')
fig.text(fx(989), fy(46.5), ' Advisory: Kick Watch', fontsize=10.5, va='center')
fig.text(fx(989), fy(69), ' Time Start: 2023-10-20 19:48:34', fontsize=10.5, va='center')

fig.add_artist(Ellipse((fx(1562), fy(441)), 196 / W, 719 / H, transform=fig.transFigure,
                       fill=False, ec='black', lw=1.6, zorder=30))
fig.add_artist(Ellipse((fx(1712), fy(864)), 287 / W, 28 / H, transform=fig.transFigure,
                       fill=False, ec='#ed7d31', lw=3.2, zorder=30))

fig.savefig('out.png', dpi=100, facecolor='white')
